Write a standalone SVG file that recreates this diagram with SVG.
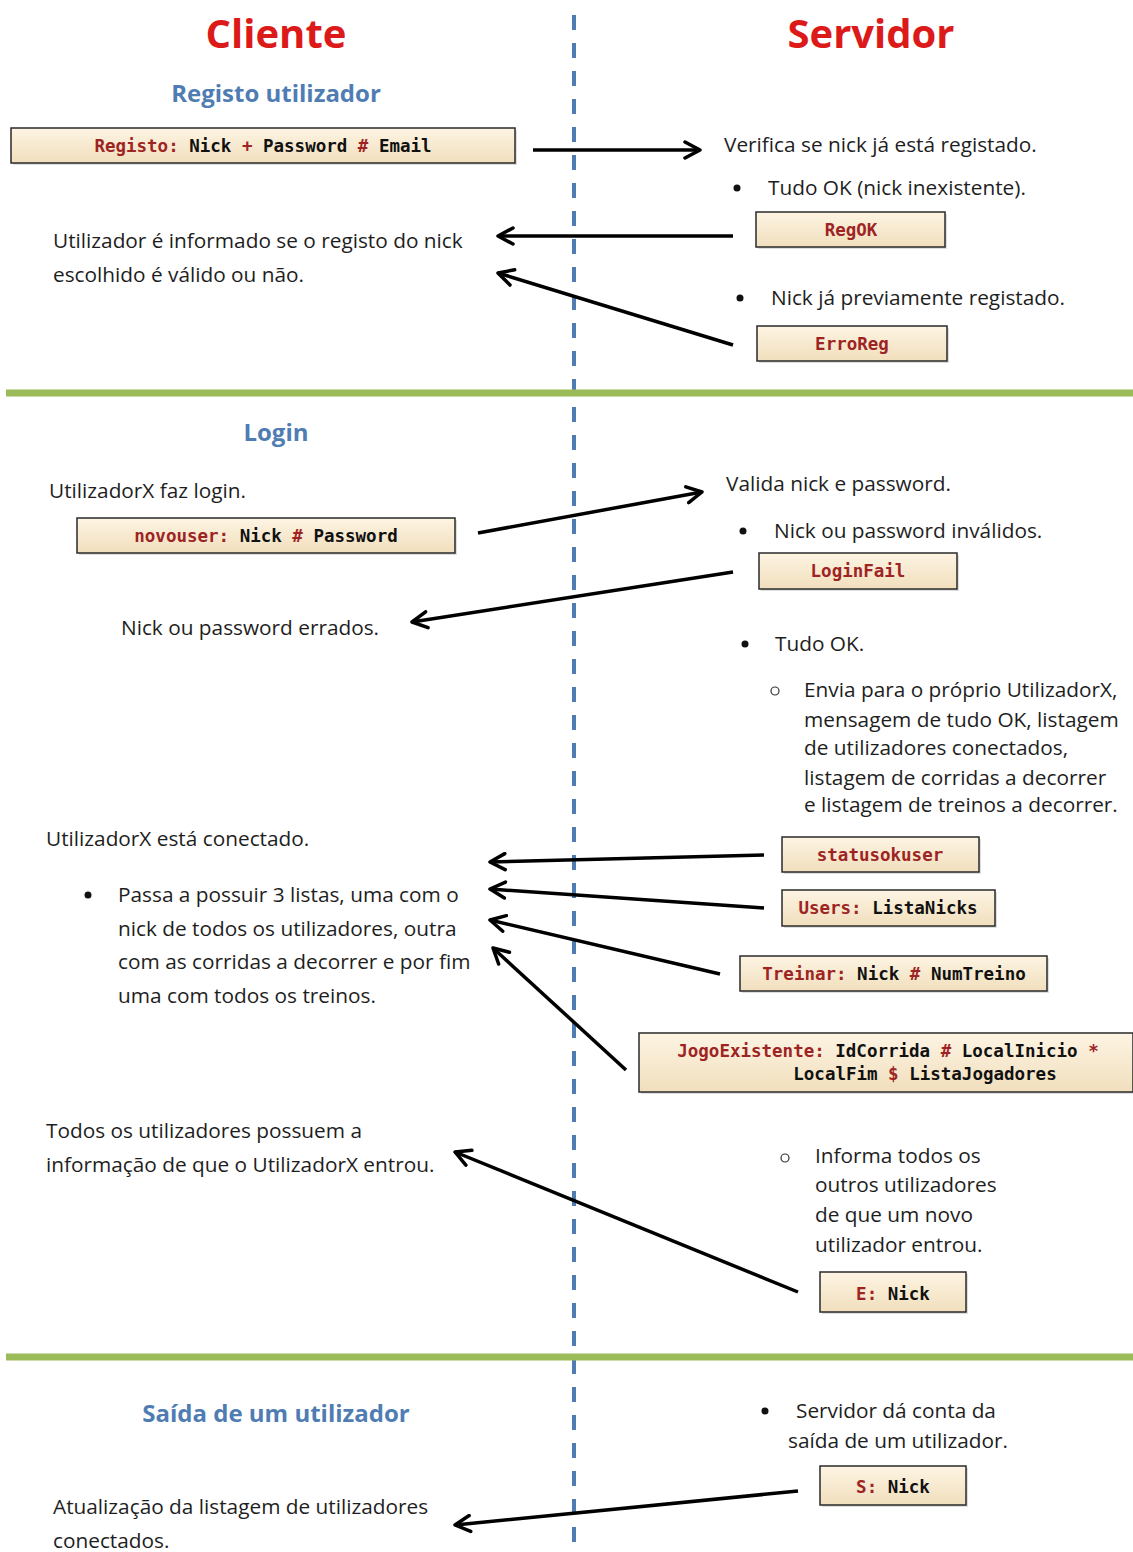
<svg xmlns="http://www.w3.org/2000/svg" width="1133" height="1552" viewBox="0 0 1133 1552">
<defs>
<linearGradient id="bx" x1="0" y1="0" x2="0" y2="1">
<stop offset="0" stop-color="#fdf4e3"/>
<stop offset="1" stop-color="#f1dfbd"/>
</linearGradient>
<marker id="ah" viewBox="0 0 20 20" refX="17" refY="10" markerWidth="20" markerHeight="20" markerUnits="userSpaceOnUse" orient="auto">
<path d="M2,2 L17,10 L2,18" fill="none" stroke="#000" stroke-width="3.5" stroke-linecap="round" stroke-linejoin="round"/>
</marker>
</defs>
<style>
.t{font-family:"Open Sans","Liberation Sans",sans-serif;font-size:20.8px;fill:#1e1e1e}
.h1{font-family:"Open Sans","Liberation Sans",sans-serif;font-size:40px;font-weight:bold;fill:#dc1a1a;text-anchor:middle}
.h2{font-family:"Open Sans","Liberation Sans",sans-serif;font-size:24px;font-weight:bold;fill:#4f7db3;text-anchor:middle}
.m{font-family:"DejaVu Sans Mono","Liberation Mono",monospace;font-size:17.5px;font-weight:bold;fill:#111;text-anchor:middle}
.k{fill:#9e2424}
.box{fill:url(#bx);stroke:#2a2a2a;stroke-width:1.5}
.sh{fill:#bbb;opacity:0.5}
.sep{stroke:#9bbb59;stroke-width:7}
.c{stroke:#000;stroke-width:3.5;fill:none;marker-end:url(#ah)}
.b{fill:#111}
.o{fill:none;stroke:#333;stroke-width:1.2}
</style>
<rect width="1133" height="1552" fill="#fff"/>
<line x1="574" y1="15" x2="574" y2="1545" stroke="#4f7db3" stroke-width="4" stroke-dasharray="15 13"/>
<line class="sep" x1="6" y1="393" x2="1133" y2="393"/>
<line class="sep" x1="6" y1="1357" x2="1133" y2="1357"/>
<g id="titles">
<text class="h1" x="276" y="48">Cliente</text>
<text class="h1" x="871" y="48">Servidor</text>
<text class="h2" x="276" y="102">Registo utilizador</text>
<text class="h2" x="276" y="441">Login</text>
<text class="h2" x="276" y="1422">Saída de um utilizador</text>
</g>
<g id="n-registo"><rect class="sh" x="13" y="130" width="504" height="35"/><rect class="box" x="11" y="128" width="504" height="35"/><text class="m" x="263" y="152"><tspan class="k">Registo:</tspan> Nick <tspan class="k">+</tspan> Password <tspan class="k">#</tspan> Email</text></g>
<g id="n-regok"><rect class="sh" x="758" y="214" width="189" height="35"/><rect class="box" x="756" y="212" width="189" height="35"/><text class="m" x="851" y="236"><tspan class="k">RegOK</tspan></text></g>
<g id="n-erroreg"><rect class="sh" x="759" y="328" width="190" height="35"/><rect class="box" x="757" y="326" width="190" height="35"/><text class="m" x="852" y="350"><tspan class="k">ErroReg</tspan></text></g>
<g id="n-novouser"><rect class="sh" x="79" y="520" width="378" height="35"/><rect class="box" x="77" y="518" width="378" height="35"/><text class="m" x="266" y="542"><tspan class="k">novouser:</tspan> Nick <tspan class="k">#</tspan> Password</text></g>
<g id="n-loginfail"><rect class="sh" x="761" y="555" width="198" height="36"/><rect class="box" x="759" y="553" width="198" height="36"/><text class="m" x="858" y="577"><tspan class="k">LoginFail</tspan></text></g>
<g id="n-statusok"><rect class="sh" x="784" y="839" width="197" height="35"/><rect class="box" x="782" y="837" width="197" height="35"/><text class="m" x="880" y="861"><tspan class="k">statusokuser</tspan></text></g>
<g id="n-users"><rect class="sh" x="784" y="892" width="213" height="36"/><rect class="box" x="782" y="890" width="213" height="36"/><text class="m" x="888" y="914"><tspan class="k">Users:</tspan> ListaNicks</text></g>
<g id="n-treinar"><rect class="sh" x="742" y="958" width="307" height="35"/><rect class="box" x="740" y="956" width="307" height="35"/><text class="m" x="894" y="980"><tspan class="k">Treinar:</tspan> Nick <tspan class="k">#</tspan> NumTreino</text></g>
<g id="n-jogo"><rect class="sh" x="641" y="1035" width="494" height="59"/><rect class="box" x="639" y="1033" width="494" height="59"/><text class="m" x="888" y="1057"><tspan class="k">JogoExistente:</tspan> IdCorrida <tspan class="k">#</tspan> LocalInicio <tspan class="k">*</tspan></text><text class="m" x="925" y="1080">LocalFim <tspan class="k">$</tspan> ListaJogadores</text></g>
<g id="n-e"><rect class="sh" x="822" y="1274" width="146" height="40"/><rect class="box" x="820" y="1272" width="146" height="40"/><text class="m" x="893" y="1300"><tspan class="k">E:</tspan> Nick</text></g>
<g id="n-s"><rect class="sh" x="822" y="1468" width="146" height="39"/><rect class="box" x="820" y="1466" width="146" height="39"/><text class="m" x="893" y="1493"><tspan class="k">S:</tspan> Nick</text></g>
<g id="texts">
<text class="t" x="724" y="152">Verifica se nick já está registado.</text>
<circle class="b" cx="737" cy="188" r="3.5"/><text class="t" x="768" y="195">Tudo OK (nick inexistente).</text>
<text class="t" x="53" y="248">Utilizador é informado se o registo do nick</text>
<text class="t" x="53" y="282">escolhido é válido ou não.</text>
<circle class="b" cx="740" cy="298" r="3.5"/><text class="t" x="771" y="305">Nick já previamente registado.</text>
<text class="t" x="49" y="498">UtilizadorX faz login.</text>
<text class="t" x="726" y="491">Valida nick e password.</text>
<circle class="b" cx="743" cy="531" r="3.5"/><text class="t" x="774" y="538">Nick ou password inválidos.</text>
<text class="t" x="121" y="635">Nick ou password errados.</text>
<circle class="b" cx="745" cy="644" r="3.5"/><text class="t" x="775" y="651">Tudo OK.</text>
<circle class="o" cx="775" cy="691" r="4"/>
<text class="t" x="804" y="697">Envia para o próprio  UtilizadorX,</text>
<text class="t" x="804" y="727">mensagem de tudo OK, listagem</text>
<text class="t" x="804" y="755">de utilizadores conectados,</text>
<text class="t" x="804" y="785">listagem de corridas a decorrer</text>
<text class="t" x="804" y="812">e listagem de treinos a decorrer.</text>
<text class="t" x="46" y="846">UtilizadorX está conectado.</text>
<circle class="b" cx="88" cy="895" r="3.5"/>
<text class="t" x="118" y="902">Passa a possuir 3 listas, uma com o</text>
<text class="t" x="118" y="936">nick de todos os utilizadores, outra</text>
<text class="t" x="118" y="969">com as corridas a decorrer e por fim</text>
<text class="t" x="118" y="1003">uma com todos os treinos.</text>
<text class="t" x="46" y="1138">Todos os utilizadores possuem a</text>
<text class="t" x="46" y="1172">informação de que o UtilizadorX entrou.</text>
<circle class="o" cx="785" cy="1158" r="4"/>
<text class="t" x="815" y="1163">Informa todos os</text>
<text class="t" x="815" y="1192">outros utilizadores</text>
<text class="t" x="815" y="1222">de que um novo</text>
<text class="t" x="815" y="1252">utilizador entrou.</text>
<circle class="b" cx="765" cy="1411" r="3.5"/><text class="t" x="796" y="1418">Servidor dá conta da</text>
<text class="t" x="788" y="1448">saída de um utilizador.</text>
<text class="t" x="53" y="1514">Atualização da listagem de utilizadores</text>
<text class="t" x="53" y="1548">conectados.</text>
</g>
<g id="connectors">
<line class="c" x1="533" y1="150" x2="700" y2="150"/>
<line class="c" x1="733" y1="236" x2="498" y2="236"/>
<line class="c" x1="733" y1="345" x2="498" y2="273"/>
<line class="c" x1="478" y1="533" x2="702" y2="492"/>
<line class="c" x1="733" y1="572" x2="412" y2="622"/>
<line class="c" x1="764" y1="855" x2="490" y2="862"/>
<line class="c" x1="764" y1="908" x2="490" y2="889"/>
<line class="c" x1="720" y1="974" x2="490" y2="920"/>
<line class="c" x1="626" y1="1070" x2="493" y2="948"/>
<line class="c" x1="798" y1="1292" x2="455" y2="1152"/>
<line class="c" x1="798" y1="1491" x2="455" y2="1525"/>
</g>
</svg>
